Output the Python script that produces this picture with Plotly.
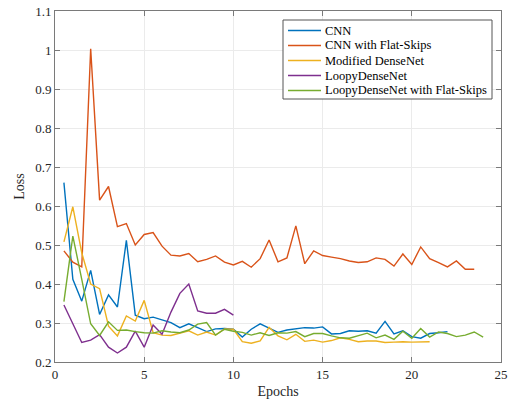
import plotly.graph_objects as go

# Training loss per half epoch for each architecture
epochs_cnn = [i * 0.5 for i in range(1, 45)]          # 0.5 .. 22
loss_cnn = [0.660, 0.412, 0.356, 0.435, 0.322, 0.372, 0.341, 0.512, 0.320, 0.311,
            0.315, 0.308, 0.301, 0.288, 0.298, 0.288, 0.278, 0.285, 0.286, 0.284,
            0.264, 0.284, 0.298, 0.287, 0.276, 0.282, 0.285, 0.288, 0.287, 0.290,
            0.272, 0.273, 0.280, 0.279, 0.280, 0.274, 0.304, 0.272, 0.280, 0.265,
            0.261, 0.273, 0.275, 0.278]

epochs_flat = [i * 0.5 for i in range(1, 48)]          # 0.5 .. 23.5
loss_flat = [0.485, 0.456, 0.444, 1.003, 0.615, 0.650, 0.547, 0.555, 0.500, 0.527,
             0.532, 0.497, 0.474, 0.472, 0.478, 0.457, 0.463, 0.472, 0.456, 0.449,
             0.458, 0.443, 0.465, 0.513, 0.457, 0.467, 0.549, 0.452, 0.485, 0.473,
             0.469, 0.465, 0.459, 0.455, 0.457, 0.467, 0.463, 0.446, 0.477, 0.450,
             0.495, 0.465, 0.455, 0.444, 0.459, 0.438, 0.438]

epochs_dense = [i * 0.5 for i in range(1, 43)]         # 0.5 .. 21
loss_dense = [0.508, 0.598, 0.480, 0.400, 0.388, 0.292, 0.267, 0.318, 0.305, 0.358,
              0.275, 0.269, 0.268, 0.274, 0.280, 0.269, 0.277, 0.269, 0.285, 0.284,
              0.252, 0.248, 0.254, 0.289, 0.267, 0.257, 0.271, 0.253, 0.256, 0.251,
              0.255, 0.262, 0.258, 0.252, 0.254, 0.254, 0.250, 0.251, 0.252, 0.251,
              0.252, 0.252]

epochs_loopy = [i * 0.5 for i in range(1, 21)]         # 0.5 .. 10
loss_loopy = [0.346, 0.296, 0.250, 0.256, 0.270, 0.238, 0.223, 0.238, 0.279, 0.238,
              0.295, 0.271, 0.328, 0.376, 0.400, 0.331, 0.325, 0.325, 0.335, 0.320]

epochs_loopy_flat = [i * 0.5 for i in range(1, 49)]    # 0.5 .. 24
loss_loopy_flat = [0.355, 0.523, 0.412, 0.298, 0.268, 0.303, 0.281, 0.282, 0.278, 0.275,
                   0.274, 0.280, 0.277, 0.275, 0.282, 0.297, 0.301, 0.269, 0.284, 0.279,
                   0.276, 0.269, 0.275, 0.268, 0.275, 0.274, 0.278, 0.265, 0.273, 0.273,
                   0.267, 0.262, 0.261, 0.267, 0.274, 0.262, 0.269, 0.258, 0.279, 0.261,
                   0.286, 0.264, 0.277, 0.273, 0.265, 0.269, 0.277, 0.264]

series_names = ["CNN", "CNN with Flat-Skips", "Modified DenseNet",
                "LoopyDenseNet", "LoopyDenseNet with Flat-Skips"]
series_x = [epochs_cnn, epochs_flat, epochs_dense, epochs_loopy, epochs_loopy_flat]
series_y = [loss_cnn, loss_flat, loss_dense, loss_loopy, loss_loopy_flat]
series_colors = ["#0072BD", "#D95319", "#EDB120", "#7E2F8E", "#77AC30"]

x_ticks = [0, 5, 10, 15, 20, 25]
y_ticks = [0.2, 0.3, 0.4, 0.5, 0.6, 0.7, 0.8, 0.9, 1.0, 1.1]
y_tick_text = ["0.2", "0.3", "0.4", "0.5", "0.6", "0.7", "0.8", "0.9", "1", "1.1"]

FONT = "Liberation Serif"
W, H = 514, 403
M = dict(l=55, r=13, t=11, b=41)
PW = W - M["l"] - M["r"]
PH = H - M["t"] - M["b"]


def px_to_paper(px, py):
    """Convert a page pixel position to paper coordinates of the plot area."""
    return (px - M["l"]) / PW, (H - M["b"] - py) / PH


fig = go.Figure()
for name, xs, ys, color in zip(series_names, series_x, series_y, series_colors):
    fig.add_trace(go.Scatter(x=xs, y=ys, mode="lines", name=name, showlegend=False,
                             line=dict(color=color, width=1.4)))

# Compact boxed legend in the upper right corner
box_x0, box_y0 = px_to_paper(283, 99)
box_x1, box_y1 = px_to_paper(492, 20)
fig.add_shape(type="rect", xref="paper", yref="paper",
              x0=box_x0, y0=box_y0, x1=box_x1, y1=box_y1,
              line=dict(color="#555555", width=1), fillcolor="white", layer="above")
row_top, row_step = 30.5, 15
for i, (name, color) in enumerate(zip(series_names, series_colors)):
    ly = row_top + i * row_step
    sx0, sy = px_to_paper(288, ly)
    sx1, _ = px_to_paper(321, ly)
    tx, _ = px_to_paper(323, ly)
    fig.add_shape(type="line", xref="paper", yref="paper",
                  x0=sx0, x1=sx1, y0=sy, y1=sy,
                  line=dict(color=color, width=1.4), layer="above")
    fig.add_annotation(xref="paper", yref="paper", x=tx, y=sy,
                       xanchor="left", yanchor="middle", showarrow=False,
                       text=name, font=dict(family=FONT, size=12.5, color="#000000"))

axis_style = dict(
    showline=True, linecolor="#7a7a7a", linewidth=1, mirror="ticks",
    ticks="inside", ticklen=5, tickcolor="#7a7a7a", tickwidth=1,
    showgrid=True, gridcolor="#ebebeb", gridwidth=1, zeroline=False,
    automargin=False,
    tickfont=dict(family=FONT, size=13, color="#262626"),
)

fig.update_layout(
    width=W, height=H,
    margin=M,
    paper_bgcolor="white", plot_bgcolor="white",
    font=dict(family=FONT, color="#262626"),
    xaxis=dict(range=[0, 25], tickvals=x_ticks,
               title=dict(text="Epochs", font=dict(family=FONT, size=14), standoff=5),
               **axis_style),
    yaxis=dict(range=[0.2, 1.1], tickvals=y_ticks, ticktext=y_tick_text,
               title=dict(text="Loss", font=dict(family=FONT, size=14), standoff=7),
               **axis_style),
    showlegend=False,
)

fig.write_html("out.html")
